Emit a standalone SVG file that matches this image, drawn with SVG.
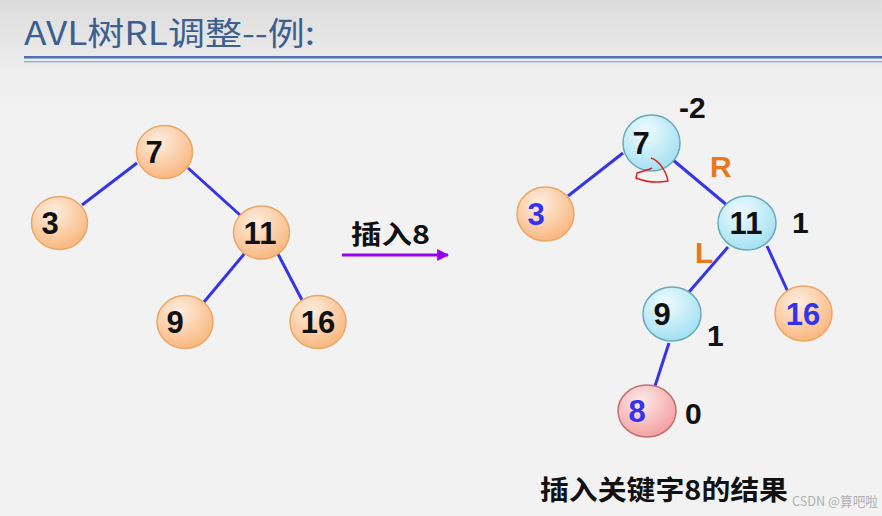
<svg xmlns="http://www.w3.org/2000/svg" width="882" height="516" viewBox="0 0 882 516">
<defs>
<linearGradient id="bg" x1="0" y1="0" x2="0" y2="1">
<stop offset="0" stop-color="#dcdcdc"/>
<stop offset="0.14" stop-color="#eeeeee"/>
<stop offset="0.25" stop-color="#f2f2f2"/>
<stop offset="1" stop-color="#f2f2f2"/>
</linearGradient>
<radialGradient id="org" cx="0.4" cy="0.3" r="0.75">
<stop offset="0" stop-color="#fdeee0"/>
<stop offset="1" stop-color="#f9b47a"/>
</radialGradient>
<radialGradient id="cyn" cx="0.4" cy="0.3" r="0.75">
<stop offset="0" stop-color="#f0fbfe"/>
<stop offset="1" stop-color="#9fdff2"/>
</radialGradient>
<radialGradient id="pnk" cx="0.4" cy="0.3" r="0.75">
<stop offset="0" stop-color="#fdeaea"/>
<stop offset="1" stop-color="#f29c9c"/>
</radialGradient>
<marker id="ah" viewBox="0 0 10 10" refX="9" refY="5" markerWidth="4" markerHeight="4" orient="auto" markerUnits="strokeWidth">
<path d="M0,0 L10,5 L0,10 z" fill="#9900ee"/>
</marker>
</defs>
<style>
.o{fill:url(#org);stroke:#e8a868;stroke-width:1.5}
.c{fill:url(#cyn);stroke:#6aaab8;stroke-width:1.5}
.p{fill:url(#pnk);stroke:#c07070;stroke-width:1.5}
.n{font-family:"Liberation Sans",Arial,sans-serif;font-weight:bold;font-size:31px;fill:#111;text-anchor:middle}
.b{fill:#3333ee}
.e{stroke:#3535e8;stroke-width:3;fill:none}
.lb{font-family:"Liberation Sans",Arial,sans-serif;font-weight:bold;font-size:30px;fill:#111}
.or{fill:#e8781c}
.cj{font-family:"Noto Sans CJK SC","Liberation Sans",sans-serif;font-weight:bold;fill:#111}
</style>
<rect width="882" height="516" fill="url(#bg)"/>
<text x="24" y="45" font-family="'Noto Sans CJK SC','Liberation Sans',sans-serif" font-size="32" fill="#3d5f8f" textLength="291" lengthAdjust="spacingAndGlyphs">AVL树RL调整--例:</text>
<rect x="24" y="56" width="858" height="2.5" fill="#4a72a8"/>
<rect x="24" y="61" width="858" height="1.5" fill="#9bb3d3"/>

<g id="connectors">
<line class="e" x1="137" y1="163" x2="82" y2="205"/>
<line class="e" x1="188" y1="168" x2="240" y2="215"/>
<line class="e" x1="245" y1="253" x2="204" y2="302"/>
<line class="e" x1="278" y1="254" x2="302" y2="300"/>
<line class="e" x1="623" y1="153" x2="568" y2="196"/>
<line class="e" x1="673" y1="160" x2="728" y2="206"/>
<line class="e" x1="728" y1="247" x2="689" y2="292"/>
<line class="e" x1="767" y1="246" x2="788" y2="292"/>
<line class="e" x1="669" y1="343" x2="655" y2="386"/>
<line x1="342" y1="255" x2="448" y2="255" stroke="#9900ee" stroke-width="3" marker-end="url(#ah)"/>
</g>

<g id="L7"><ellipse class="o" cx="164.5" cy="152" rx="28" ry="26.5"/><text class="n" x="154" y="163">7</text></g>
<g id="L3"><ellipse class="o" cx="59.5" cy="223" rx="28" ry="26.5"/><text class="n" x="50" y="234">3</text></g>
<g id="L11"><ellipse class="o" cx="261.5" cy="232.5" rx="28" ry="26.5"/><text class="n" x="260" y="244">11</text></g>
<g id="L9"><ellipse class="o" cx="185" cy="322" rx="28" ry="26.5"/><text class="n" x="175" y="333">9</text></g>
<g id="L16"><ellipse class="o" cx="318" cy="322" rx="28" ry="26.5"/><text class="n" x="318" y="333">16</text></g>

<g id="label-insert"><text class="cj" x="351" y="244" font-size="26" textLength="79" lengthAdjust="spacingAndGlyphs">插入8</text></g>

<g id="R7"><ellipse class="c" cx="651.5" cy="143" rx="28.5" ry="28"/><text class="n" x="641" y="154">7</text></g>
<g id="R3"><ellipse class="o" cx="545.5" cy="214" rx="28.5" ry="27"/><text class="n b" x="536" y="225">3</text></g>
<g id="R11"><ellipse class="c" cx="747" cy="223" rx="29" ry="27"/><text class="n" x="746" y="234">11</text></g>
<g id="R9"><ellipse class="c" cx="672" cy="314" rx="29" ry="27"/><text class="n" x="662" y="325">9</text></g>
<g id="R16"><ellipse class="o" cx="803.5" cy="313.5" rx="28.5" ry="27.5"/><text class="n b" x="803" y="325">16</text></g>
<g id="R8"><ellipse class="p" cx="647" cy="411" rx="29" ry="26"/><text class="n b" x="637" y="422">8</text></g>

<path d="M651 158 C 658 160, 666 170, 668 181 C 658 183, 646 182, 636 178 L 637 173 C 643 171, 648 170, 652 168" fill="none" stroke="#e02020" stroke-width="1.5" stroke-linejoin="round"/>

<g id="annotations">
<text class="lb" x="679" y="118">-2</text>
<text class="lb or" x="710" y="177">R</text>
<text class="lb" x="792" y="233">1</text>
<text class="lb or" x="695" y="263">L</text>
<text class="lb" x="707" y="346">1</text>
<text class="lb" x="685" y="424">0</text>
</g>

<text class="cj" x="540" y="500" font-size="27" textLength="248" lengthAdjust="spacingAndGlyphs">插入关键字8的结果</text>
<text x="792" y="506" font-family="'Noto Sans CJK SC','Liberation Sans',sans-serif" font-size="13" fill="#a8a8a8" fill-opacity="0.9" textLength="86" lengthAdjust="spacingAndGlyphs">CSDN @算吧啦</text>
</svg>
